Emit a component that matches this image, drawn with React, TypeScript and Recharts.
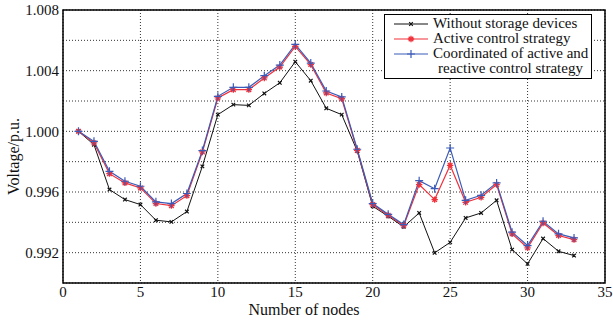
import React from "react";
import {
  CartesianGrid,
  Line,
  LineChart,
  ReferenceArea,
  XAxis,
  YAxis,
} from "recharts";

const nodes = [
  1, 2, 3, 4, 5, 6, 7, 8, 9, 10, 11, 12, 13, 14, 15, 16, 17, 18, 19, 20, 21,
  22, 23, 24, 25, 26, 27, 28, 29, 30, 31, 32, 33,
];

const withoutStorage = [
  1.0, 0.99912, 0.99616, 0.9955, 0.99517, 0.99414, 0.99403, 0.99471, 0.99769,
  1.0011, 1.00176, 1.00171, 1.0025, 1.0032, 1.00459, 1.00334, 1.00152, 1.0011,
  0.9987, 0.99506, 0.9944, 0.9937, 0.99462, 0.99199, 0.99268, 0.99429,
  0.99462, 0.99545, 0.9922, 0.99126, 0.99293, 0.99209, 0.99181,
];

const activeControl = [
  1.0, 0.99924, 0.99721, 0.9966, 0.99627, 0.99524, 0.9951, 0.99576, 0.99864,
  1.0022, 1.00275, 1.00275, 1.00352, 1.00424, 1.0056, 1.0044, 1.00253,
  1.00215, 0.99875, 0.99517, 0.99447, 0.99379, 0.99649, 0.9955, 0.99776,
  0.99532, 0.99565, 0.99649, 0.99324, 0.99232, 0.99396, 0.99313, 0.99286,
];

const coordinated = [
  1.0, 0.99934, 0.99736, 0.99671, 0.99638, 0.99535, 0.99524, 0.9959, 0.99873,
  1.00231, 1.0029, 1.0029, 1.00367, 1.00437, 1.00573, 1.0045, 1.00266,
  1.00227, 0.99882, 0.99524, 0.99453, 0.99385, 0.99675, 0.99622, 0.9989,
  0.99545, 0.99578, 0.9966, 0.99335, 0.99247, 0.99407, 0.99324, 0.99297,
];

const xTicks = [0, 5, 10, 15, 20, 25, 30, 35];
const yTicks = [0.99, 0.992, 0.994, 0.996, 0.998, 1.0, 1.002, 1.004, 1.006, 1.008];
const yLabels = [0.992, 0.996, 1.0, 1.004, 1.008];

const BLACK = "#111111";
const RED = "#f0303a";
const BLUE = "#3b5bb8";

const data = nodes.map((n, i) => ({
  node: n,
  without: withoutStorage[i],
  active: activeControl[i],
  coord: coordinated[i],
}));

const FONT = "'Liberation Serif', 'DejaVu Serif', serif";

const XMark = (props: any) => {
  const { cx, cy, key } = props;
  const s = 1.8;
  return (
    <path
      key={key}
      d={`M${cx - s},${cy - s}L${cx + s},${cy + s}M${cx - s},${cy + s}L${cx + s},${cy - s}`}
      stroke={BLACK}
      strokeWidth={1.2}
    />
  );
};

const StarMark = (props: any) => {
  const { cx, cy, key } = props;
  const s = 3.2;
  const d = 2.3;
  return (
    <path
      key={key}
      d={`M${cx - s},${cy}L${cx + s},${cy}M${cx},${cy - s}L${cx},${cy + s}M${cx - d},${cy - d}L${cx + d},${cy + d}M${cx - d},${cy + d}L${cx + d},${cy - d}`}
      stroke={RED}
      strokeWidth={1.3}
    />
  );
};

const PlusMark = (props: any) => {
  const { cx, cy, key } = props;
  const s = 4;
  return (
    <path
      key={key}
      d={`M${cx - s},${cy}L${cx + s},${cy}M${cx},${cy - s}L${cx},${cy + s}`}
      stroke={BLUE}
      strokeWidth={1.2}
    />
  );
};

const legendRows = [
  { label: ["Without storage devices"], color: BLACK, Mark: XMark },
  { label: ["Active control strategy"], color: RED, Mark: StarMark },
  {
    label: ["Coordinated of active and", "reactive control strategy"],
    color: BLUE,
    Mark: PlusMark,
  },
];

function LegendBox() {
  return (
    <div
      style={{
        position: "absolute",
        left: 384,
        top: 14,
        width: 198,
        background: "#fff",
        border: "1px solid #000",
        padding: "1px 0 2px 8px",
        fontFamily: FONT,
        fontSize: 15,
        lineHeight: "15px",
        color: "#111",
      }}
    >
      {legendRows.map(({ label, color, Mark }) => (
        <div key={label[0]} style={{ display: "flex", alignItems: "flex-start" }}>
          <svg width={40} height={15} style={{ flex: "none" }}>
            <line x1={1} y1={8} x2={35} y2={8} stroke={color} strokeWidth={1.2} />
            <Mark cx={18} cy={8} />
          </svg>
          <div>
            {label.map((t, i) => (
              <div key={t} style={{ paddingLeft: i > 0 ? 5 : 0, whiteSpace: "nowrap" }}>
                {t}
              </div>
            ))}
          </div>
        </div>
      ))}
    </div>
  );
}

export default function App() {
  return (
    <div style={{ position: "absolute", left: 0, top: 0, width: 613, height: 320, background: "#fff" }}>
      <LineChart
        width={613}
        height={320}
        data={data}
        margin={{ top: 10, right: 8, left: 0, bottom: 0 }}
      >
        <CartesianGrid stroke="#333" strokeDasharray="1 2" />
        <XAxis
          dataKey="node"
          type="number"
          domain={[0, 35]}
          ticks={xTicks}
          tickLine={false}
          axisLine={false}
          height={37}
          tickMargin={0}
          tickSize={3}
          tick={{ fontFamily: FONT, fontSize: 15, fill: "#111" }}
          label={{
            value: "Number of nodes",
            position: "insideBottom",
            dx: -30,
            dy: 0,
            style: { fontFamily: FONT, fontSize: 16, fill: "#111" },
          }}
        />
        <YAxis
          type="number"
          domain={[0.99, 1.008]}
          ticks={yTicks}
          interval={0}
          tickLine={false}
          axisLine={false}
          width={63}
          tickSize={4}
          tickMargin={0}
          tickFormatter={(v: number) =>
            yLabels.some((l) => Math.abs(l - v) < 1e-9) ? v.toFixed(3) : ""
          }
          tick={{ fontFamily: FONT, fontSize: 15, fill: "#111" }}
          label={{
            value: "Voltage/p.u.",
            angle: -90,
            position: "insideLeft",
            dx: 8,
            dy: 10,
            style: { fontFamily: FONT, fontSize: 16, fill: "#111", textAnchor: "middle" },
          }}
        />
        <ReferenceArea
          x1={0}
          x2={35}
          y1={0.99}
          y2={1.008}
          fill="none"
          stroke="#000"
          strokeWidth={1.5}
          ifOverflow="visible"
        />
        <Line
          dataKey="without"
          stroke={BLACK}
          strokeWidth={1}
          dot={XMark}
          isAnimationActive={false}
        />
        <Line
          dataKey="active"
          stroke={RED}
          strokeWidth={1.2}
          dot={StarMark}
          isAnimationActive={false}
        />
        <Line
          dataKey="coord"
          stroke={BLUE}
          strokeWidth={1.2}
          dot={PlusMark}
          isAnimationActive={false}
        />
      </LineChart>
      <LegendBox />
    </div>
  );
}
